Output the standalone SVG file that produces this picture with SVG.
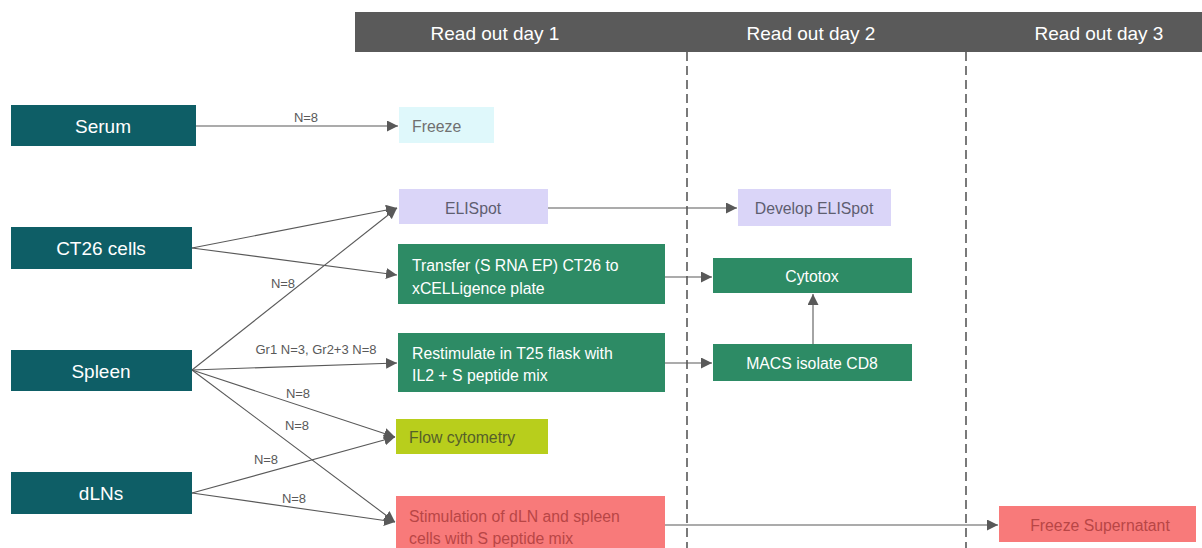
<svg xmlns="http://www.w3.org/2000/svg" width="1202" height="548" viewBox="0 0 1202 548">
<defs>
<marker id="ah" viewBox="0 0 10 10" refX="10" refY="5" markerWidth="11" markerHeight="11" markerUnits="userSpaceOnUse" orient="auto">
<path d="M0,0 L10,5 L0,10 z" fill="#595959"/>
</marker>
<style>
text{font-family:"Liberation Sans",Arial,sans-serif;dominant-baseline:central}
.hdr{fill:#ffffff;font-size:19px;text-anchor:middle}
.src rect{fill:#0e5e66}
.src text{fill:#ffffff;font-size:19px;text-anchor:middle}
.grn rect{fill:#2d8b65}
.grn text{fill:#ffffff;font-size:15.8px}
.c{text-anchor:middle}
.lbl{fill:#595959;font-size:13px;text-anchor:middle}
.edge{stroke:#595959;stroke-width:1.1;fill:none;marker-end:url(#ah)}
.dash{stroke:#333333;stroke-width:1.3;stroke-dasharray:9,5}
</style>
</defs>
<rect width="1202" height="548" fill="#ffffff"/>
<g id="header">
<rect x="355" y="12" width="847" height="40" fill="#5a5a5a"/>
<text class="hdr" x="495" y="33">Read out day 1</text>
<text class="hdr" x="811" y="33">Read out day 2</text>
<text class="hdr" x="1099" y="33">Read out day 3</text>
</g>
<g id="dividers">
<line class="dash" x1="687" y1="52" x2="687" y2="548"/>
<line class="dash" x1="966" y1="52" x2="966" y2="548"/>
</g>
<g id="connectors">
<line class="edge" x1="196" y1="126" x2="398" y2="126"/>
<text class="lbl" x="306" y="117">N=8</text>
<line class="edge" x1="192" y1="248" x2="397" y2="208"/>
<line class="edge" x1="192" y1="248" x2="397" y2="275"/>
<line class="edge" x1="192" y1="370" x2="397" y2="208"/>
<text class="lbl" x="283" y="283">N=8</text>
<line class="edge" x1="192" y1="370" x2="397" y2="363"/>
<text class="lbl" x="316" y="349">Gr1 N=3, Gr2+3 N=8</text>
<line class="edge" x1="192" y1="370" x2="395" y2="437"/>
<text class="lbl" x="298" y="393">N=8</text>
<line class="edge" x1="192" y1="370" x2="395" y2="522"/>
<text class="lbl" x="297" y="425">N=8</text>
<line class="edge" x1="192" y1="493" x2="395" y2="437"/>
<text class="lbl" x="266" y="459">N=8</text>
<line class="edge" x1="192" y1="493" x2="395" y2="522"/>
<text class="lbl" x="294" y="498">N=8</text>
<line class="edge" x1="548" y1="208" x2="737" y2="208"/>
<line class="edge" x1="665" y1="277" x2="712" y2="277"/>
<line class="edge" x1="665" y1="363" x2="712" y2="363"/>
<line class="edge" x1="813" y1="344" x2="813" y2="294"/>
<line class="edge" x1="665" y1="525" x2="998" y2="525"/>
</g>
<g id="serum" class="src"><rect x="11" y="105" width="185" height="41"/><text x="103" y="126">Serum</text></g>
<g id="ct26" class="src"><rect x="11" y="227" width="181" height="42"/><text x="101" y="248">CT26 cells</text></g>
<g id="spleen" class="src"><rect x="11" y="350" width="181" height="41"/><text x="101" y="371">Spleen</text></g>
<g id="dlns" class="src"><rect x="11" y="472" width="181" height="42"/><text x="101" y="493">dLNs</text></g>
<g id="freeze"><rect x="399" y="107" width="95" height="36" fill="#dff8fb"/><text x="412" y="126" fill="#707070" font-size="15.8">Freeze</text></g>
<g id="elispot"><rect x="399" y="189" width="149" height="35" fill="#dad5f8"/><text x="473" y="208" fill="#5e5e70" font-size="15.8" class="c">ELISpot</text></g>
<g id="develop"><rect x="738" y="189" width="153" height="37" fill="#dad5f8"/><text x="814" y="208" fill="#5e5e70" font-size="15.8" class="c">Develop ELISpot</text></g>
<g id="transfer" class="grn"><rect x="398" y="244" width="267" height="60"/><text x="412" y="265">Transfer (S RNA EP) CT26 to</text><text x="412" y="288">xCELLigence plate</text></g>
<g id="restim" class="grn"><rect x="398" y="333" width="267" height="59"/><text x="412" y="353">Restimulate in T25 flask with</text><text x="412" y="375">IL2 + S peptide mix</text></g>
<g id="cytotox" class="grn"><rect x="713" y="258" width="199" height="35"/><text x="812" y="276" class="c">Cytotox</text></g>
<g id="macs" class="grn"><rect x="713" y="344" width="199" height="37"/><text x="812" y="363" class="c">MACS isolate CD8</text></g>
<g id="flow"><rect x="396" y="419" width="152" height="35" fill="#b8ce1c"/><text x="409" y="437" fill="#55602a" font-size="15.8">Flow cytometry</text></g>
<g id="stim"><rect x="396" y="496" width="269" height="52" fill="#f87a7a"/><text x="409" y="516" fill="#b84646" font-size="15.8">Stimulation of dLN and spleen</text><text x="409" y="538" fill="#b84646" font-size="15.8">cells with S peptide mix</text></g>
<g id="freezesup"><rect x="999" y="506" width="197" height="36" fill="#f87a7a"/><text x="1100" y="525" fill="#b84646" font-size="15.8" class="c">Freeze Supernatant</text></g>
</svg>
